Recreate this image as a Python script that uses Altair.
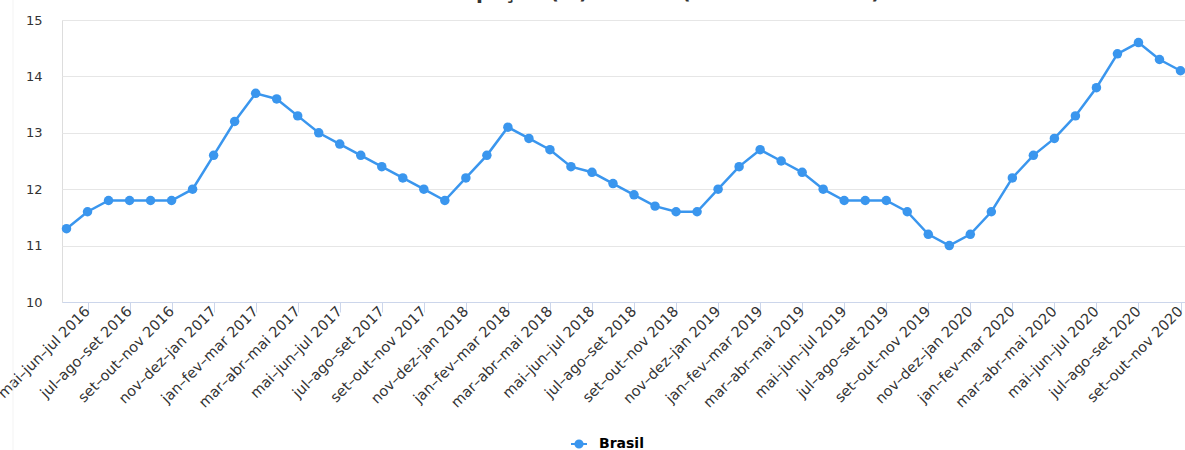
import altair as alt
import pandas as pd

periods = [
    "abr–mai–jun 2016", "mai–jun–jul 2016", "jun–jul–ago 2016", "jul–ago–set 2016",
    "ago–set–out 2016", "set–out–nov 2016", "out–nov–dez 2016", "nov–dez–jan 2017",
    "dez–jan–fev 2017", "jan–fev–mar 2017", "fev–mar–abr 2017", "mar–abr–mai 2017",
    "abr–mai–jun 2017", "mai–jun–jul 2017", "jun–jul–ago 2017", "jul–ago–set 2017",
    "ago–set–out 2017", "set–out–nov 2017", "out–nov–dez 2017", "nov–dez–jan 2018",
    "dez–jan–fev 2018", "jan–fev–mar 2018", "fev–mar–abr 2018", "mar–abr–mai 2018",
    "abr–mai–jun 2018", "mai–jun–jul 2018", "jun–jul–ago 2018", "jul–ago–set 2018",
    "ago–set–out 2018", "set–out–nov 2018", "out–nov–dez 2018", "nov–dez–jan 2019",
    "dez–jan–fev 2019", "jan–fev–mar 2019", "fev–mar–abr 2019", "mar–abr–mai 2019",
    "abr–mai–jun 2019", "mai–jun–jul 2019", "jun–jul–ago 2019", "jul–ago–set 2019",
    "ago–set–out 2019", "set–out–nov 2019", "out–nov–dez 2019", "nov–dez–jan 2020",
    "dez–jan–fev 2020", "jan–fev–mar 2020", "fev–mar–abr 2020", "mar–abr–mai 2020",
    "abr–mai–jun 2020", "mai–jun–jul 2020", "jun–jul–ago 2020", "jul–ago–set 2020",
    "ago–set–out 2020", "set–out–nov 2020",
]

taxa = [
    11.3, 11.6, 11.8, 11.8, 11.8, 11.8, 12.0, 12.6, 13.2, 13.7,
    13.6, 13.3, 13.0, 12.8, 12.6, 12.4, 12.2, 12.0, 11.8, 12.2,
    12.6, 13.1, 12.9, 12.7, 12.4, 12.3, 12.1, 11.9, 11.7, 11.6,
    11.6, 12.0, 12.4, 12.7, 12.5, 12.3, 12.0, 11.8, 11.8, 11.8,
    11.6, 11.2, 11.0, 11.2, 11.6, 12.2, 12.6, 12.9, 13.3, 13.8,
    14.4, 14.6, 14.3, 14.1,
]

serie = ["Brasil"] * len(periods)
tick_labels = periods[1::2]
y_ticks = [10, 11, 12, 13, 14, 15]
title_text = ["Taxa de desocupação (%) - Brasil (trimestre móvel)"]

BLUE = "#3a96ee"
FONT = "DejaVu Sans"

df = pd.DataFrame({"periodo": periods, "taxa": taxa, "serie": serie})
df_title = pd.DataFrame({"titulo": title_text})

legend_symbol = "M-1,0L1,0M0.45,0A0.45,0.45,0,1,1,-0.45,0A0.45,0.45,0,1,1,0.45,0Z"

base = alt.Chart(df).encode(
    x=alt.X(
        "periodo:N",
        sort=periods,
        scale=alt.Scale(type="point", padding=0.214),
        axis=alt.Axis(
            values=tick_labels,
            title=None,
            labelAngle=-45,
            labelAlign="right",
            labelBaseline="middle",
            labelFont=FONT,
            labelFontSize=14.5,
            labelColor="#333333",
            labelPadding=-3,
            labelOverlap=False,
            labelBound=False,
            labelFlush=False,
            tickColor="#ccd6eb",
            tickSize=10,
            tickWidth=1,
            domainColor="#ccd6eb",
            domainWidth=1,
            grid=False,
        ),
    ),
    y=alt.Y(
        "taxa:Q",
        scale=alt.Scale(domain=[10, 15], nice=False, zero=False),
        axis=alt.Axis(
            values=y_ticks,
            title=None,
            domain=False,
            ticks=False,
            grid=True,
            gridColor="#e6e6e6",
            gridWidth=1,
            labelFont=FONT,
            labelFontSize=13,
            labelColor="#333333",
            labelPadding=20,
        ),
    ),
    color=alt.Color(
        "serie:N",
        scale=alt.Scale(range=[BLUE]),
        legend=alt.Legend(
            title=None,
            orient="none",
            legendX=508,
            legendY=415,
            symbolType=legend_symbol,
            symbolSize=256,
            symbolStrokeWidth=2,
            symbolFillColor=BLUE,
            symbolStrokeColor=BLUE,
            labelFont=FONT,
            labelFontSize=14,
            labelFontWeight="bold",
            labelColor="#000000",
            labelOffset=11,
        ),
    ),
)

line = base.mark_line(strokeWidth=2.5)
points = base.mark_point(filled=True, size=90, opacity=1)

border = alt.Chart(df_title).mark_rule(color="#f3f3f3", strokeWidth=1).encode(
    x=alt.value(-49), y=alt.value(-20), y2=alt.value(430)
)

title_mark = alt.Chart(df_title).mark_text(
    font=FONT, fontSize=20, fontWeight="bold", color="#333333",
    align="center", baseline="alphabetic",
).encode(
    x=alt.value(530), y=alt.value(-21), text="titulo:N"
)

chart = (
    alt.layer(border, line, points, title_mark)
    .properties(
        width=1123,
        height=282,
        autosize=alt.AutoSizeParams(type="none"),
        padding={"left": 62, "top": 20, "right": 0, "bottom": 148},
    )
    .configure_view(stroke=None)
    .configure(background="white")
)

chart.save("out.html", embed_options={"renderer": "svg", "actions": False})
